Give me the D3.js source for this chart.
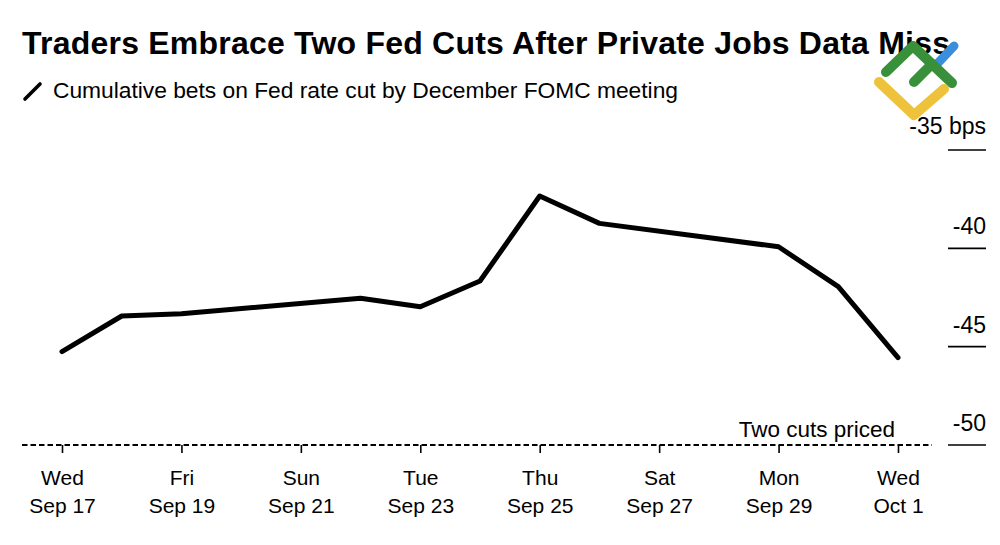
<!DOCTYPE html>
<html>
<head>
<meta charset="utf-8">
<script src="https://cdn.jsdelivr.net/npm/d3@7"></script>
<style>
  html, body { margin: 0; padding: 0; background: #fff; }
  svg { display: block; font-family: "Liberation Sans", Arial, Helvetica, sans-serif; }
</style>
</head>
<body>
<svg id="chart" width="1000" height="545"></svg>
<script>
// ---- data ----
const dates = ["2025-09-17","2025-09-18","2025-09-19","2025-09-22","2025-09-23","2025-09-24",
               "2025-09-25","2025-09-26","2025-09-29","2025-09-30","2025-10-01"];
const values = [-45.25, -43.44, -43.33, -42.54, -42.97, -41.66, -37.34, -38.73, -39.92, -41.95, -45.56];
const xTickDates = ["2025-09-17","2025-09-19","2025-09-21","2025-09-23","2025-09-25","2025-09-27","2025-09-29","2025-10-01"];
const yTicks = [-35, -40, -45, -50];
const yTickLabels = ["-35 bps", "-40", "-45", "-50"];
const thresholdValue = -50;
const thresholdLabel = "Two cuts priced";
const title = "Traders Embrace Two Fed Cuts After Private Jobs Data Miss";
const legendLabel = "Cumulative bets on Fed rate cut by December FOMC meeting";

const parse = d3.timeParse("%Y-%m-%d");
const data = dates.map((d, i) => ({ date: parse(d), value: values[i] }));

const svg = d3.select("#chart");

const x = d3.scaleTime()
  .domain([parse("2025-09-17"), parse("2025-10-01")])
  .range([62, 898]);
const y = d3.scaleLinear()
  .domain([-50, -35])
  .range([445, 150]);

// ---- title ----
svg.append("text")
  .attr("x", 22).attr("y", 54)
  .attr("font-size", 32).attr("font-weight", "bold")
  .attr("textLength", 928).attr("lengthAdjust", "spacing")
  .attr("fill", "#000")
  .text(title);

// ---- legend ----
svg.append("line")
  .attr("x1", 25).attr("y1", 99).attr("x2", 40).attr("y2", 84)
  .attr("stroke", "#000").attr("stroke-width", 3.6).attr("stroke-linecap", "round");
svg.append("text")
  .attr("x", 53).attr("y", 98)
  .attr("font-size", 22.8)
  .attr("textLength", 625).attr("lengthAdjust", "spacing")
  .attr("fill", "#000")
  .text(legendLabel);

// ---- y axis (right side, labels above short lines) ----
const yg = svg.append("g");
yTicks.forEach((t, i) => {
  yg.append("line")
    .attr("x1", 948).attr("x2", 986)
    .attr("y1", y(t)).attr("y2", y(t))
    .attr("stroke", "#000").attr("stroke-width", 1.6);
  yg.append("text")
    .attr("x", 986).attr("y", y(t) - (i === 0 ? 16 : 14))
    .attr("text-anchor", "end")
    .attr("font-size", 23)
    .attr("fill", "#000")
    .text(yTickLabels[i]);
});

// ---- threshold dashed line ----
svg.append("line")
  .attr("x1", 22).attr("x2", 932)
  .attr("y1", y(thresholdValue)).attr("y2", y(thresholdValue))
  .attr("stroke", "#000").attr("stroke-width", 2)
  .attr("stroke-dasharray", "5.5,3");
svg.append("text")
  .attr("x", 895).attr("y", y(thresholdValue) - 8)
  .attr("text-anchor", "end")
  .attr("font-size", 22.5)
  .attr("fill", "#000")
  .text(thresholdLabel);

// ---- x axis ----
const fmtDay = d3.timeFormat("%a");
const fmtDate = d => d3.timeFormat("%b")(d) + " " + d.getDate();
const xAxis = d3.axisBottom(x)
  .tickValues(xTickDates.map(parse))
  .tickSize(8)
  .tickPadding(0)
  .tickFormat("");
const xg = svg.append("g")
  .attr("transform", `translate(0,${y(thresholdValue)})`)
  .call(xAxis);
xg.select(".domain").remove();
xg.selectAll(".tick line").attr("stroke", "#000").attr("stroke-width", 1.6);
xg.selectAll(".tick").each(function(d) {
  const t = d3.select(this).append("text")
    .attr("fill", "#000")
    .attr("font-size", 21)
    .attr("text-anchor", "middle")
    .attr("font-family", "'Liberation Sans', Arial, Helvetica, sans-serif");
  t.append("tspan").attr("x", 0).attr("y", 40).text(fmtDay(d));
  t.append("tspan").attr("x", 0).attr("y", 68).text(fmtDate(d));
});

// ---- line ----
const line = d3.line()
  .x(d => x(d.date))
  .y(d => y(d.value));
svg.append("path")
  .datum(data)
  .attr("d", line)
  .attr("fill", "none")
  .attr("stroke", "#000")
  .attr("stroke-width", 5)
  .attr("stroke-linejoin", "round")
  .attr("stroke-linecap", "round");

// ---- watermark logo ----
const logo = svg.append("g").attr("fill", "none").attr("stroke-linecap", "round").attr("stroke-linejoin", "round");
logo.append("path").attr("d", "M937,64 L954,46").attr("stroke", "#3A8EDC").attr("stroke-width", 9);
logo.append("path").attr("d", "M886,72 L913,46 L952,83").attr("stroke", "#38903A").attr("stroke-width", 10);
logo.append("path").attr("d", "M914,82 L932,64").attr("stroke", "#38903A").attr("stroke-width", 10);
logo.append("path").attr("d", "M879,82 L914,115 L944,89").attr("stroke", "#EFC23C").attr("stroke-width", 10);
</script>
</body>
</html>
